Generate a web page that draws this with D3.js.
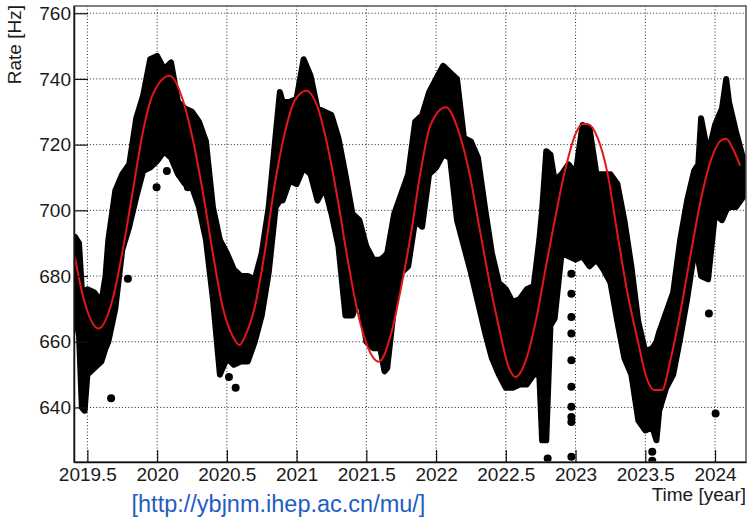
<!DOCTYPE html>
<html>
<head>
<meta charset="utf-8">
<script src="https://cdn.jsdelivr.net/npm/d3@7/dist/d3.min.js"></script>
<style>
  body { margin: 0; background: #fff; }
  text { font-family: "Liberation Sans", Arial, sans-serif; }
</style>
</head>
<body>
<div id="canvas"></div>
<script>
// envelope of the dense black point cloud
const bandYears = [2019.41, 2019.44, 2019.46, 2019.48, 2019.50, 2019.55, 2019.60, 2019.63, 2019.65, 2019.70,
  2019.75, 2019.80, 2019.85, 2019.90, 2019.95, 2020.00, 2020.05, 2020.10, 2020.15, 2020.20,
  2020.25, 2020.30, 2020.35, 2020.40, 2020.45, 2020.50, 2020.55, 2020.60, 2020.65, 2020.70,
  2020.75, 2020.80, 2020.85, 2020.88, 2020.90, 2020.95, 2021.00, 2021.05, 2021.10, 2021.15,
  2021.20, 2021.25, 2021.30, 2021.35, 2021.40, 2021.45, 2021.50, 2021.55, 2021.60, 2021.63,
  2021.65, 2021.70, 2021.75, 2021.80, 2021.85, 2021.90, 2021.95, 2022.00, 2022.05, 2022.10,
  2022.15, 2022.20, 2022.25, 2022.30, 2022.35, 2022.40, 2022.45, 2022.50, 2022.55, 2022.60,
  2022.65, 2022.70, 2022.74, 2022.76, 2022.79, 2022.82, 2022.85, 2022.90, 2022.95, 2023.00,
  2023.05, 2023.10, 2023.15, 2023.20, 2023.25, 2023.30, 2023.35, 2023.40, 2023.45, 2023.50,
  2023.55, 2023.58, 2023.60, 2023.65, 2023.70, 2023.75, 2023.80, 2023.85, 2023.88, 2023.90,
  2023.95, 2024.00, 2024.05, 2024.08, 2024.10, 2024.15, 2024.20, 2024.21];
const bandHigh = [692, 690, 676, 675, 676, 675, 672, 680, 691, 706,
  711, 714, 728, 735, 746, 747, 743, 745, 733, 731,
  730, 727, 721, 701, 691, 687, 682, 680, 680, 679,
  687, 701, 723, 736, 733, 733, 734, 746, 741, 731,
  730, 729, 722, 711, 699, 697, 689, 685, 685, 686,
  687, 699, 705, 711, 727, 729, 736, 740, 744, 742,
  740, 722, 721, 716, 701, 687, 678, 676, 672, 673,
  676, 677, 691, 700, 718, 717, 709, 711, 714, 711,
  726, 725, 711, 711, 711, 708, 697, 683, 666, 657,
  658, 660, 663, 669, 675, 691, 703, 712, 714, 728,
  717, 726, 731, 740, 733, 724, 716, 716];
const bandLow = [668, 662, 640, 639, 650, 652, 654, 658, 660, 670,
  688, 695, 704, 712, 713, 715, 718, 716, 711, 708,
  707, 701, 691, 673, 650, 655, 653, 654, 654, 660,
  668, 681, 701, 703, 703, 709, 708, 713, 711, 703,
  707, 699, 689, 668, 668, 674, 660, 658, 658, 651,
  652, 671, 681, 683, 697, 695, 711, 713, 717, 716,
  697, 689, 681, 672, 663, 655, 650, 646, 646, 647,
  647, 650, 650, 630, 630, 665, 667, 687, 686, 685,
  686, 683, 685, 682, 678, 666, 655, 650, 636, 633,
  634, 630, 639, 646, 650, 661, 673, 687, 685, 680,
  679, 699, 697, 700, 701, 701, 704, 706];

// isolated points outside the band
const outlierYears = [2019.67, 2019.79, 2019.996, 2020.07, 2020.22, 2020.515, 2020.54, 2020.563, 2022.24, 2022.80,
  2022.97, 2022.97, 2022.97, 2022.97, 2022.97, 2022.97, 2022.97, 2022.97, 2022.97, 2022.97,
  2023.55, 2023.55, 2023.956, 2024.004];
const outlierRates = [642.8, 679.2, 707, 712, 707, 649.3, 655, 646, 685.8, 624.5,
  680.7, 674.6, 667.5, 662.5, 654.4, 646.3, 640.2, 637.1, 635.6, 625,
  626.5, 623.8, 668.6, 638.2];

// red fit curve
const fitYears = [2019.41, 2019.47, 2019.58, 2019.685, 2019.757, 2019.83, 2019.90, 2019.97, 2020.09, 2020.186,
  2020.258, 2020.33, 2020.40, 2020.47, 2020.544, 2020.59, 2020.628, 2020.70, 2020.77, 2020.84,
  2020.914, 2020.986, 2021.07, 2021.15, 2021.224, 2021.296, 2021.367, 2021.44, 2021.51, 2021.59,
  2021.678, 2021.75, 2021.82, 2021.89, 2021.96, 2022.07, 2022.167, 2022.24, 2022.31, 2022.38,
  2022.45, 2022.52, 2022.57, 2022.644, 2022.716, 2022.787, 2022.86, 2022.93, 2023.00, 2023.05,
  2023.085, 2023.157, 2023.23, 2023.30, 2023.373, 2023.445, 2023.515, 2023.563, 2023.62, 2023.68,
  2023.754, 2023.826, 2023.897, 2023.97, 2024.04, 2024.08, 2024.123, 2024.18];
const fitRates = [685.8, 673.6, 664, 673.6, 688.8, 707, 724.3, 735.4, 741, 733.4,
  721.2, 705, 686.8, 670.6, 661.5, 659, 661.5, 670.6, 686.8, 707,
  723.3, 733.4, 736.4, 731.4, 719.2, 703, 684.8, 668.6, 658.4, 653.9,
  662.5, 676.7, 692.9, 712, 726, 731.4, 723.3, 711.1, 694.9, 678.7,
  664.5, 652.3, 649.3, 654.4, 666.5, 682.7, 699, 713.1, 723.3, 726.3,
  726.3, 722.2, 711.1, 692.9, 674.6, 660.5, 648.3, 645.3, 645.3, 654.4,
  669.6, 686.8, 703, 715.2, 721.2, 721.8, 719.2, 713.6];

const xTicks = [2019.5, 2020, 2020.5, 2021, 2021.5, 2022, 2022.5, 2023, 2023.5, 2024];
const xTickLabels = ["2019.5", "2020", "2020.5", "2021", "2021.5", "2022", "2022.5", "2023", "2023.5", "2024"];
const yTicks = [640, 660, 680, 700, 720, 740, 760];

const width = 751, height = 520;
const margin = { top: 6, left: 74, bottom: 58, right: 5 };

const svg = d3.select("#canvas").append("svg")
  .attr("width", width).attr("height", height);

const x = d3.scaleLinear().domain([2019.404, 2024.222]).range([margin.left, width - margin.right]);
const y = d3.scaleLinear().domain([623.4, 762.2]).range([height - margin.bottom, margin.top]);

svg.append("defs").append("clipPath").attr("id", "plot")
  .append("rect").attr("x", margin.left).attr("y", margin.top)
  .attr("width", x.range()[1] - x.range()[0]).attr("height", y.range()[0] - y.range()[1]);

// dotted grid
const grid = svg.append("g").attr("stroke", "#222").attr("stroke-width", 1).attr("stroke-dasharray", "1,2.2");
grid.selectAll("line.v").data(xTicks).enter().append("line")
  .attr("x1", d => x(d)).attr("x2", d => x(d))
  .attr("y1", y.range()[1]).attr("y2", y.range()[0]);
grid.selectAll("line.h").data(yTicks).enter().append("line")
  .attr("x1", x.range()[0]).attr("x2", x.range()[1])
  .attr("y1", d => y(d)).attr("y2", d => y(d));

const band = bandYears.map((t, i) => ({ t: t, hi: bandHigh[i], lo: bandLow[i] }));
const plot = svg.append("g").attr("clip-path", "url(#plot)");

plot.append("path").datum(band)
  .attr("fill", "#000").attr("stroke", "#000").attr("stroke-width", 6).attr("stroke-linejoin", "round")
  .attr("d", d3.area().x(d => x(d.t)).y0(d => y(d.lo)).y1(d => y(d.hi)));

plot.selectAll("circle").data(outlierYears).enter().append("circle")
  .attr("cx", d => x(d)).attr("cy", (d, i) => y(outlierRates[i]))
  .attr("r", 4).attr("fill", "#000");

const fit = fitYears.map((t, i) => ({ t: t, v: fitRates[i] }));
plot.append("path").datum(fit)
  .attr("fill", "none").attr("stroke", "#e3161c").attr("stroke-width", 2)
  .attr("d", d3.line().x(d => x(d.t)).y(d => y(d.v)).curve(d3.curveMonotoneX));

// frame
svg.append("rect").attr("x", x.range()[0]).attr("y", y.range()[1])
  .attr("width", x.range()[1] - x.range()[0]).attr("height", y.range()[0] - y.range()[1])
  .attr("fill", "none").attr("stroke", "#555").attr("stroke-width", 1.5);

// axes, ticks pointing inside like ROOT
const xMinor = d3.range(2019.5, 2024.21, 0.1);
const yMinor = d3.range(625, 761, 5);

const xg = svg.append("g").attr("transform", `translate(0,${y.range()[0]})`);
xg.call(d3.axisBottom(x).tickValues(xMinor).tickSize(-6).tickSizeOuter(0).tickFormat(""));
xg.call(d3.axisBottom(x).tickValues(xTicks).tickSize(-12).tickSizeOuter(0).tickPadding(6)
  .tickFormat((d, i) => xTickLabels[i]));

const yg = svg.append("g").attr("transform", `translate(${x.range()[0]},0)`);
yg.call(d3.axisLeft(y).tickValues(yMinor).tickSize(-7).tickSizeOuter(0).tickFormat(""));
yg.call(d3.axisLeft(y).tickValues(yTicks).tickSize(-14).tickSizeOuter(0).tickPadding(3));

svg.selectAll(".domain").attr("stroke", "#111").attr("stroke-width", 1.5);
svg.selectAll(".tick line").attr("stroke", "#111").attr("stroke-width", 1.2);
svg.selectAll(".tick text").attr("font-size", 19).attr("fill", "#1a1a1a")
  .attr("font-family", "'Liberation Sans', Arial, sans-serif");

svg.append("text").attr("transform", "translate(20.5,5) rotate(-90)")
  .attr("text-anchor", "end").attr("font-size", 19).attr("fill", "#1a1a1a").text("Rate [Hz]");

svg.append("text").attr("x", 746).attr("y", 501)
  .attr("text-anchor", "end").attr("font-size", 19).attr("fill", "#1a1a1a").text("Time [year]");

svg.append("text").attr("x", 131.5).attr("y", 512)
  .attr("font-size", 23.5).attr("fill", "#1f5cc4").text("[http://ybjnm.ihep.ac.cn/mu/]");
</script>
</body>
</html>
